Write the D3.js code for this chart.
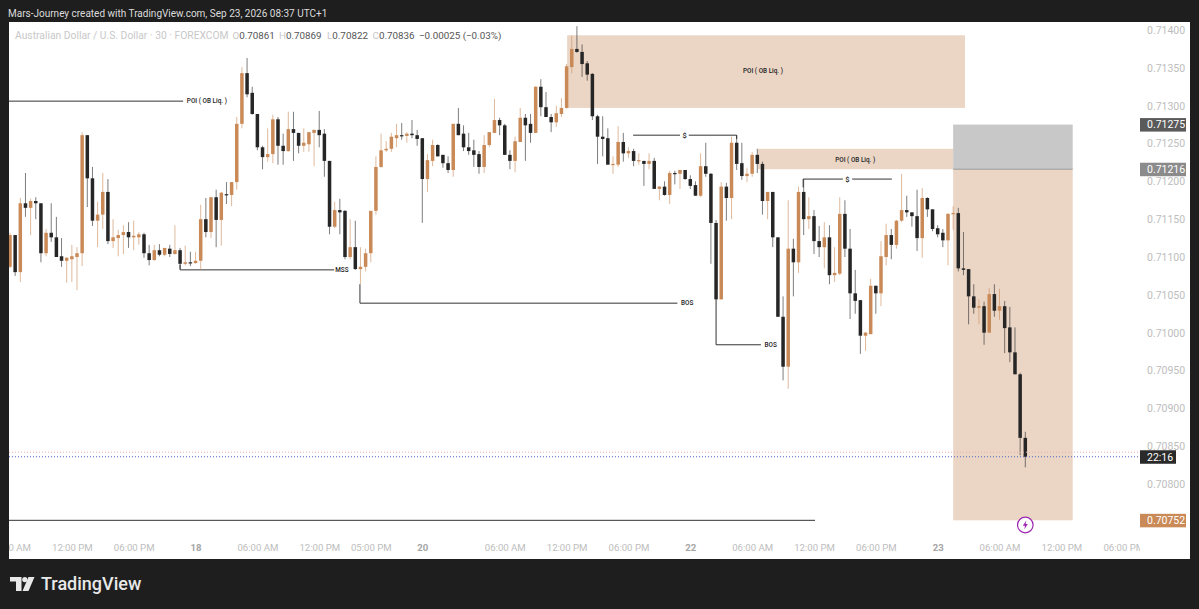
<!DOCTYPE html>
<html>
<head>
<meta charset="utf-8">
<script src="https://cdn.jsdelivr.net/npm/d3@7"></script>
<style>
  html, body { margin: 0; padding: 0; background: #1e1e1e; overflow: hidden; }
  svg { display: block; }
  text { font-family: Roboto, sans-serif; }
</style>
</head>
<body>
<svg id="chart" width="1199" height="609"></svg>
<script>
// AUDUSD 30m, prices in 1/100000 units
const opens = [71087,71129,71080,71171,71165,71174,71171,71105,71132,71126,71101,71095,71097,71100,71105,71261,71204,71148,71156,71186,71121,71125,71129,71133,71126,71126,71130,71105,71096,71109,71103,71111,71104,71109,71091,71093,71092,71095,71150,71133,71179,71149,71183,71182,71199,71276,71343,71317,71289,71245,71232,71236,71282,71247,71240,71269,71264,71247,71249,71264,71268,71263,71227,71140,71162,71161,71100,71113,71084,71087,71105,71161,71219,71241,71243,71257,71261,71260,71263,71261,71257,71203,71227,71248,71235,71224,71215,71276,71263,71245,71241,71236,71219,71248,71264,71281,71274,71235,71227,71252,71284,71276,71264,71325,71298,71285,71278,71289,71297,71351,71375,71371,71356,71342,71286,71259,71257,71222,71222,71252,71237,71240,71227,71227,71223,71227,71190,71193,71182,71211,71210,71215,71203,71195,71181,71220,71210,71145,71044,71193,71178,71251,71224,71207,71210,71235,71223,71174,71186,71126,71021,70955,71111,71093,71186,71150,71154,71121,71113,71126,71076,71078,71157,71111,71052,71043,70996,70998,71062,71052,71100,71129,71116,71148,71162,71159,71154,71125,71178,71163,71138,71132,71122,71157,71158,71085,71084,71048,71033,71035,71000,71051,71029,71035,71007,70974,70945,70861];
const highs = [71132,71129,71178,71211,71177,71179,71171,71137,71171,71153,71125,71100,71116,71113,71265,71261,71219,71173,71211,71203,71150,71136,71142,71146,71148,71133,71132,71116,71116,71117,71112,71116,71142,71112,71115,71107,71107,71169,71178,71179,71189,71186,71199,71199,71285,71351,71363,71325,71289,71247,71270,71288,71285,71263,71292,71292,71264,71270,71265,71268,71293,71269,71227,71173,71177,71162,71150,71148,71113,71111,71161,71233,71263,71253,71264,71276,71277,71265,71281,71268,71257,71236,71255,71249,71235,71233,71276,71297,71274,71264,71255,71240,71261,71265,71309,71284,71276,71241,71259,71297,71289,71289,71326,71335,71318,71289,71300,71310,71355,71393,71405,71381,71359,71343,71288,71286,71270,71233,71273,71264,71245,71243,71237,71227,71237,71231,71194,71200,71214,71214,71215,71215,71208,71200,71237,71251,71211,71149,71199,71198,71259,71261,71251,71218,71239,71243,71226,71186,71186,71126,71048,71175,71124,71193,71203,71179,71162,71141,71146,71142,71113,71179,71175,71137,71083,71043,71001,71071,71062,71121,71144,71137,71149,71210,71181,71159,71189,71191,71179,71163,71142,71137,71158,71167,71165,71133,71084,71064,71044,71041,71059,71064,71058,71042,71034,71007,70947,70869];
const lows = [71085,71075,71067,71153,71129,71150,71093,71101,71120,71100,71087,71066,71067,71056,71088,71166,71141,71113,71137,71117,71112,71101,71104,71112,71109,71116,71099,71089,71095,71101,71101,71100,71103,71084,71089,71088,71091,71083,71126,71125,71113,71115,71170,71167,71189,71270,71311,71288,71241,71216,71226,71224,71222,71222,71239,71227,71237,71239,71239,71220,71245,71206,71130,71138,71130,71097,71097,71083,71064,71081,71093,71156,71218,71239,71239,71245,71255,71251,71257,71247,71145,71186,71220,71233,71218,71211,71206,71261,71240,71235,71219,71210,71211,71245,71264,71261,71235,71216,71212,71252,71227,71251,71264,71286,71285,71265,71272,71285,71296,71343,71370,71338,71333,71281,71223,71233,71222,71210,71219,71226,71231,71220,71222,71194,71216,71190,71175,71181,71170,71196,71190,71202,71190,71181,71179,71206,71091,71044,71044,71148,71150,71215,71202,71199,71206,71211,71156,71150,71113,71021,70937,70926,71048,71079,71129,71137,71104,71100,71085,71064,71067,71076,71100,71018,71025,70972,70976,70998,71025,71035,71089,71097,71111,71146,71153,71140,71108,71099,71153,71134,71126,71113,71089,71136,71081,71076,71011,71025,71011,70984,71000,71021,71017,70973,70961,70945,70838,70822];
const closes = [71129,71080,71171,71165,71174,71171,71105,71132,71126,71100,71095,71099,71101,71105,71261,71204,71148,71156,71186,71121,71126,71129,71133,71126,71128,71130,71105,71096,71109,71103,71112,71104,71109,71091,71093,71092,71095,71150,71133,71179,71149,71185,71182,71199,71276,71343,71315,71289,71245,71232,71236,71282,71247,71240,71269,71264,71247,71251,71265,71268,71261,71227,71140,71162,71159,71100,71113,71084,71087,71105,71161,71219,71241,71243,71259,71261,71260,71263,71261,71256,71203,71228,71248,71233,71224,71215,71276,71261,71245,71240,71235,71219,71248,71265,71281,71274,71235,71227,71253,71284,71274,71264,71325,71298,71285,71278,71290,71297,71352,71375,71371,71355,71341,71286,71259,71256,71222,71223,71252,71237,71240,71227,71228,71223,71227,71190,71193,71182,71211,71210,71215,71203,71194,71181,71220,71210,71145,71044,71193,71178,71251,71223,71207,71210,71235,71223,71174,71186,71126,71021,70955,71111,71093,71186,71150,71154,71121,71113,71126,71076,71079,71157,71111,71052,71042,70996,71000,71062,71052,71101,71129,71116,71148,71162,71159,71154,71125,71178,71163,71137,71130,71122,71157,71158,71085,71083,71048,71033,71035,71000,71051,71029,71035,71006,70974,70945,70861,70836];

const priceTicks = [0.714,0.7135,0.713,0.7125,0.712,0.7115,0.711,0.7105,0.71,0.7095,0.709,0.7085,0.708];
const timeTickIndex = [0,12,24,36,48,60,70,80,96,108,120,132,144,156,168,180,192,204,216];
const timeTickLabel = ['06:00 AM','12:00 PM','06:00 PM','18','06:00 AM','12:00 PM','05:00 PM','20','06:00 AM','12:00 PM','06:00 PM','22','06:00 AM','12:00 PM','06:00 PM','23','06:00 AM','12:00 PM','06:00 PM'];
const dayLabels = ['18','20','22','23'];

// drawn zones: first bar, last bar, top price, bottom price
const zoneBars = [[108.1,185.3],[145.1,183],[183,206.2],[183,206.2]];
const zonePrices = [[71393,71297],[71243,71216],[71275,71216],[71216,70752]];
const zoneFills = ['#ebd6c6','#ebd6c6','#c8c8c8','#ebd6c6'];

// annotation lines: from bar, to bar, price
const lineBars = [[-0.5,33.6],[33,62.9],[67.9,129.5],[137,145.7],[120.9,130],[131.7,141],[153.9,161.6],[163.4,171.1],[-0.5,156.2]];
const linePrices = [71306,71083,71039,70984,71261,71261,71203,71203,70752];
const stemBars = [33,67.9,137,141,153.9];
const stemPrices = [[71090,71083],[71064,71039],[71044,70984],[71261,71256],[71203,71192]];

const labelBars = [38.2,64.4,131.4,147.6,130.9,162.5,146.1,164];
const labelPrices = [71306,71083,71039,70984,71261,71203,71346,71229];
const labelTexts = ['POI ( OB Liq. )','MSS','BOS','BOS','$','$','POI ( OB Liq. )','POI ( OB Liq. )'];

const tagPrices = [0.71275,0.71216,0.70836,0.70752];
const tagTexts = ['0.71275','0.71216','22:16','0.70752'];
const tagFills = ['#5a5a5a','#8b8b8b','#2a2a2a','#c98a58'];
const tagWidths = [46,46,36,46];

const changeLabel = '\u22120.00025 (\u22120.03%)';

const upColor = '#c98a58';
const downColor = '#262626';

const svg = d3.select('#chart');

const paneLeft = 9, frameRight = 1190, paneTop = 22, paneBottom = 559, paneRight = 1140;
const x = d3.scaleLinear().domain([0, 197]).range([10, 1025.3]);
const y = d3.scaleLinear().domain([0.708, 0.714]).range([484, 30]);
const px = v => y(v / 100000);

svg.append('rect').attr('x', paneLeft).attr('y', paneTop)
  .attr('width', frameRight - paneLeft).attr('height', paneBottom - paneTop).attr('fill', '#fff');

const defs = svg.append('defs');
defs.append('clipPath').attr('id', 'pane').append('rect')
  .attr('x', paneLeft).attr('y', paneTop).attr('width', paneRight - paneLeft).attr('height', paneBottom - paneTop);

const pane = svg.append('g').attr('clip-path', 'url(#pane)');

// zones
pane.selectAll('.zone').data(zoneBars).enter().append('rect')
  .attr('class', 'zone')
  .attr('x', d => x(d[0]))
  .attr('width', d => x(d[1]) - x(d[0]))
  .attr('y', (d, i) => px(zonePrices[i][0]))
  .attr('height', (d, i) => px(zonePrices[i][1]) - px(zonePrices[i][0]))
  .attr('fill', (d, i) => zoneFills[i]);

// grey edge under the stop box
pane.append('line')
  .attr('x1', x(183)).attr('x2', x(206.2))
  .attr('y1', px(71216)).attr('y2', px(71216))
  .attr('stroke', '#9a9a9a').attr('stroke-width', 1);

// annotations
pane.selectAll('.note').data(lineBars).enter().append('line')
  .attr('class', 'note')
  .attr('x1', d => x(d[0])).attr('x2', d => x(d[1]))
  .attr('y1', (d, i) => px(linePrices[i])).attr('y2', (d, i) => px(linePrices[i]))
  .attr('stroke', '#333').attr('stroke-width', 1);

pane.selectAll('.stem').data(stemBars).enter().append('line')
  .attr('class', 'stem')
  .attr('x1', d => x(d)).attr('x2', d => x(d))
  .attr('y1', (d, i) => px(stemPrices[i][0])).attr('y2', (d, i) => px(stemPrices[i][1]))
  .attr('stroke', '#333').attr('stroke-width', 1);

// candles
const candles = d3.range(opens.length);
const color = i => closes[i] >= opens[i] ? upColor : downColor;

pane.selectAll('.wick').data(candles).enter().append('line')
  .attr('class', 'wick')
  .attr('x1', i => x(i)).attr('x2', i => x(i))
  .attr('y1', i => px(highs[i])).attr('y2', i => px(lows[i]))
  .attr('stroke', color).attr('stroke-width', 1).attr('stroke-opacity', 0.6);

pane.selectAll('.body').data(candles).enter().append('rect')
  .attr('class', 'body')
  .attr('x', i => x(i) - 1.75)
  .attr('width', 3.5)
  .attr('y', i => px(Math.max(opens[i], closes[i])))
  .attr('height', i => Math.max(1.2, Math.abs(px(opens[i]) - px(closes[i]))))
  .attr('fill', color);

// small drawing labels
pane.selectAll('.noteText').data(labelTexts).enter().append('text')
  .attr('class', 'noteText')
  .attr('x', (d, i) => x(labelBars[i]))
  .attr('y', (d, i) => px(labelPrices[i]))
  .attr('dy', '0.35em')
  .attr('text-anchor', 'middle')
  .attr('font-size', d => d === '$' ? 7.5 : 6.4)
  .attr('font-weight', 500)
  .attr('fill', '#222')
  .text(d => d);

// last price lines
pane.append('line').attr('x1', paneLeft).attr('x2', paneRight)
  .attr('y1', px(70842)).attr('y2', px(70842))
  .attr('stroke', '#eeaaaa').attr('stroke-dasharray', '1 2');
pane.append('line').attr('x1', paneLeft).attr('x2', paneRight)
  .attr('y1', y(0.70836)).attr('y2', y(0.70836))
  .attr('stroke', '#4f62c0').attr('stroke-dasharray', '1 2');

// time axis
const timeAxis = svg.append('g')
  .attr('clip-path', 'url(#pane)')
  .append('g')
  .attr('transform', `translate(0, 541)`)
  .call(d3.axisBottom(x).tickValues(timeTickIndex).tickSize(0)
    .tickFormat((d, i) => timeTickLabel[i]));
timeAxis.select('.domain').remove();
timeAxis.selectAll('text')
  .attr('font-size', 9.6)
  .attr('font-family', 'Roboto, sans-serif')
  .attr('fill', d => dayLabels.includes(timeTickLabel[timeTickIndex.indexOf(d)]) ? '#a5a5a5' : '#bdbdbd')
  .attr('font-weight', d => dayLabels.includes(timeTickLabel[timeTickIndex.indexOf(d)]) ? 700 : 400);

// price axis
const priceAxis = svg.append('g')
  .attr('transform', `translate(1147, 0)`)
  .call(d3.axisRight(y).tickValues(priceTicks).tickSize(0).tickPadding(0).tickFormat(d3.format('.5f')));
priceAxis.select('.domain').remove();
priceAxis.selectAll('text')
  .attr('font-size', 10.5)
  .attr('font-family', 'Roboto, sans-serif')
  .attr('fill', '#bdbdbd');

// price tags
const tags = svg.selectAll('.tag').data(tagPrices).enter().append('g')
  .attr('class', 'tag')
  .attr('transform', d => `translate(1140, ${y(d)})`);
tags.append('rect').attr('x', 0).attr('y', -6.5)
  .attr('width', (d, i) => tagWidths[i]).attr('height', 13.5)
  .attr('fill', (d, i) => tagFills[i]);
tags.append('text').attr('x', 7).attr('dy', '0.36em')
  .attr('font-size', 10.5).attr('fill', '#fff')
  .text((d, i) => tagTexts[i]);

// alert marker
const marker = svg.append('g').attr('transform', `translate(${x(197)}, 525)`);
marker.append('circle').attr('r', 7.8).attr('fill', '#fff').attr('stroke', '#9c27b0').attr('stroke-width', 1.2);
marker.append('path').attr('d', 'M1,-4.5 L-2.5,0.8 L-0.3,0.8 L-1,4.5 L2.5,-1 L0.3,-1 Z').attr('fill', '#9c27b0');

// header
svg.append('text').attr('x', 8).attr('y', 17)
  .attr('font-size', 10).attr('fill', '#dcdcdc')
  .text('Mars-Journey created with TradingView.com, Sep 23, 2026 08:37 UTC+1');

// legend
const last = opens.length - 1;
const fmt = d3.format('.5f');
const legendX = [232.5, 279, 327, 372.5];
const legendKeys = ['O', 'H', 'L', 'C'];
const legendVals = [opens[last], highs[last], lows[last], closes[last]];

svg.append('text').attr('x', 15).attr('y', 39).attr('font-size', 10.3).attr('fill', '#c8c8c8')
  .text('Australian Dollar / U.S. Dollar · 30 · FOREXCOM');
legendKeys.forEach((k, i) => {
  const t = svg.append('text').attr('x', legendX[i]).attr('y', 39).attr('font-size', 9.8).attr('fill', '#c8c8c8');
  t.append('tspan').text(k);
  t.append('tspan').attr('fill', '#555').text(fmt(legendVals[i] / 100000));
});
svg.append('text').attr('x', 419).attr('y', 39).attr('font-size', 9.8).attr('fill', '#555')
  .text(changeLabel);

// footer logo
const logo = svg.append('g').attr('fill', '#e8e8e8');
logo.append('path').attr('d', 'M10,577 H21.5 V591 H16 V581.5 H10 Z');
logo.append('circle').attr('cx', 24.8).attr('cy', 579.6).attr('r', 2.6);
logo.append('path').attr('d', 'M28.5,577 H34.5 L28.5,591 H22.5 Z');
svg.append('text').attr('x', 41).attr('y', 590)
  .attr('font-family', 'Inter, sans-serif').attr('font-size', 18).attr('font-weight', 500)
  .attr('fill', '#e8e8e8').text('TradingView');
</script>
</body>
</html>
